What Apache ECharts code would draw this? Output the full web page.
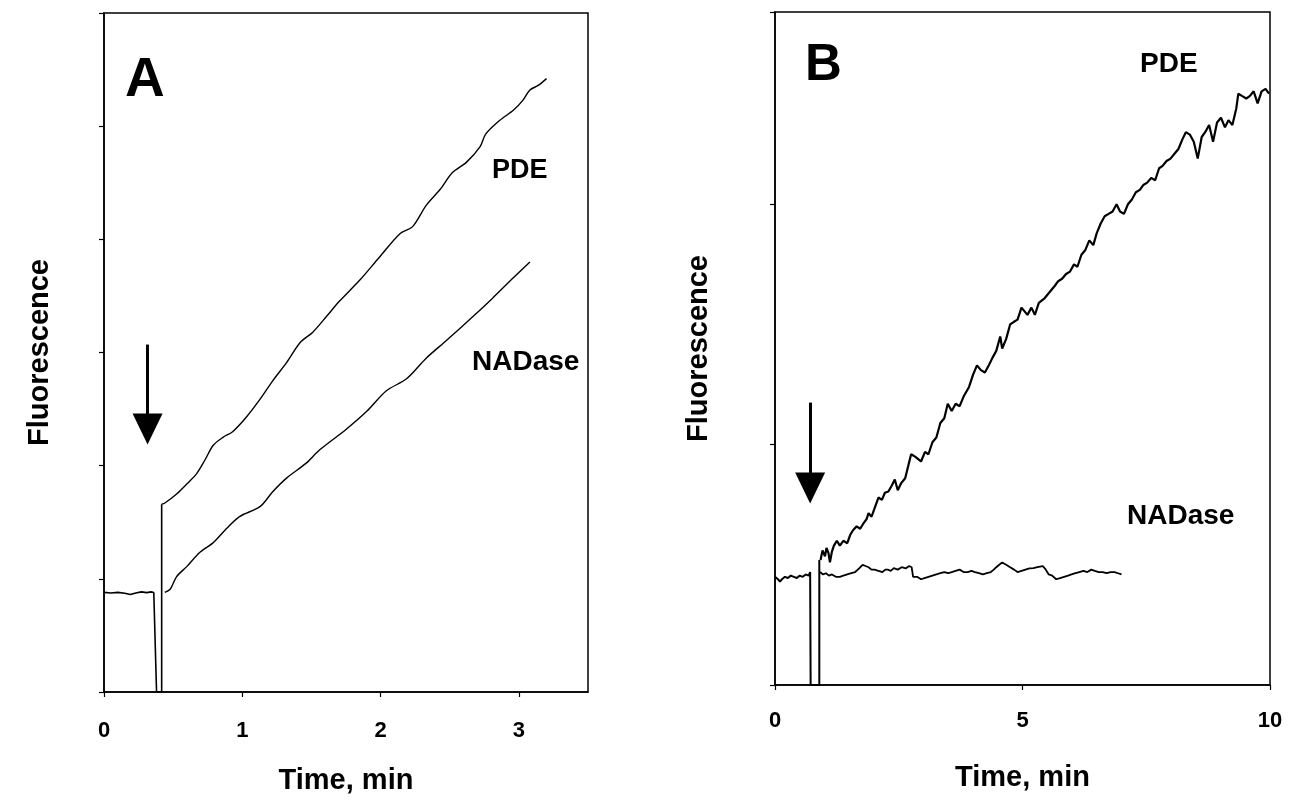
<!DOCTYPE html>
<html>
<head>
<meta charset="utf-8">
<script src="https://cdn.jsdelivr.net/npm/echarts@6/dist/echarts.min.js"></script>
<style>
html,body{margin:0;padding:0;background:#fff;}
#c{width:1289px;height:802px;}
</style>
</head>
<body>
<div id="c"></div>
<script>
// ---------------- DATA ----------------
// Panel A (Time, min ; Fluorescence, arbitrary units)
const xTicksA = [0, 1, 2, 3];
const xTicksB = [0, 5, 10];
const baselineA = [[0,0.88],[0.05,0.875],[0.10,0.88],[0.15,0.872],[0.19,0.862],[0.23,0.875],[0.27,0.885],[0.31,0.878],[0.34,0.885],[0.36,0.88],[0.38,0],[0.417,0],[0.417,1.66]];
const pdeA = [[0.417,1.66],[0.44,1.67],[0.525,1.75],[0.60,1.84],[0.67,1.93],[0.73,2.05],[0.79,2.18],[0.86,2.25],[0.93,2.30],[1.03,2.43],[1.13,2.59],[1.22,2.75],[1.32,2.91],[1.42,3.09],[1.51,3.18],[1.61,3.32],[1.70,3.45],[1.85,3.64],[1.99,3.84],[2.14,4.05],[2.23,4.11],[2.33,4.30],[2.43,4.44],[2.52,4.59],[2.62,4.68],[2.72,4.82],[2.76,4.93],[2.86,5.05],[2.96,5.14],[3.03,5.23],[3.08,5.32],[3.14,5.36],[3.20,5.42]];
const nadaseA = [[0.44,0.88],[0.48,0.91],[0.525,1.02],[0.60,1.11],[0.69,1.23],[0.79,1.32],[0.89,1.45],[0.98,1.55],[1.13,1.64],[1.22,1.77],[1.32,1.89],[1.46,2.02],[1.56,2.14],[1.75,2.32],[1.90,2.48],[2.04,2.66],[2.19,2.77],[2.33,2.95],[2.48,3.11],[2.67,3.32],[2.81,3.48],[2.96,3.66],[3.08,3.80]];
// Panel B
const baselineB = [[0,0.45],[0.06,0.44],[0.10,0.43],[0.14,0.44],[0.20,0.45],[0.26,0.445],[0.32,0.455],[0.38,0.45],[0.44,0.445],[0.50,0.455],[0.56,0.45],[0.62,0.46],[0.68,0.455],[0.71,0.47],[0.72,0],[0.895,0],[0.895,0.52]];
const pdeB = [[0.92,0.52],[0.96,0.56],[1.01,0.535],[1.04,0.57],[1.08,0.55],[1.11,0.51],[1.15,0.555],[1.19,0.58],[1.25,0.60],[1.31,0.58],[1.38,0.60],[1.46,0.59],[1.52,0.625],[1.58,0.645],[1.65,0.66],[1.72,0.65],[1.78,0.67],[1.85,0.69],[1.89,0.715],[1.95,0.70],[2.02,0.74],[2.09,0.78],[2.16,0.77],[2.22,0.80],[2.29,0.805],[2.36,0.83],[2.42,0.855],[2.48,0.81],[2.55,0.84],[2.63,0.86],[2.75,0.96],[2.83,0.95],[2.95,0.93],[3.03,0.97],[3.10,0.96],[3.18,1.01],[3.26,1.03],[3.34,1.09],[3.42,1.11],[3.49,1.17],[3.57,1.14],[3.65,1.17],[3.73,1.16],[3.81,1.20],[3.92,1.24],[4.00,1.29],[4.08,1.33],[4.16,1.31],[4.24,1.30],[4.32,1.33],[4.39,1.36],[4.47,1.39],[4.55,1.45],[4.59,1.40],[4.67,1.44],[4.75,1.50],[4.82,1.51],[4.90,1.52],[4.98,1.57],[5.10,1.54],[5.18,1.57],[5.25,1.54],[5.33,1.59],[5.45,1.61],[5.57,1.64],[5.65,1.66],[5.72,1.68],[5.80,1.69],[5.88,1.71],[5.96,1.72],[6.04,1.75],[6.11,1.74],[6.19,1.79],[6.27,1.81],[6.35,1.85],[6.43,1.83],[6.50,1.88],[6.58,1.92],[6.66,1.95],[6.74,1.96],[6.82,1.97],[6.90,2.00],[6.97,1.97],[7.05,1.96],[7.13,2.00],[7.21,2.02],[7.29,2.05],[7.37,2.06],[7.44,2.08],[7.52,2.09],[7.60,2.11],[7.68,2.10],[7.76,2.15],[7.83,2.16],[7.91,2.18],[7.99,2.19],[8.07,2.21],[8.15,2.23],[8.23,2.27],[8.30,2.30],[8.38,2.29],[8.46,2.26],[8.54,2.19],[8.62,2.28],[8.69,2.30],[8.77,2.33],[8.85,2.26],[8.93,2.34],[9.01,2.36],[9.09,2.32],[9.16,2.35],[9.24,2.33],[9.32,2.40],[9.36,2.46],[9.44,2.45],[9.52,2.44],[9.59,2.45],[9.67,2.47],[9.75,2.42],[9.83,2.47],[9.91,2.48],[9.98,2.46]];
const nadaseB = [[0.91,0.47],[0.97,0.46],[1.03,0.465],[1.09,0.455],[1.15,0.46],[1.23,0.45],[1.31,0.45],[1.38,0.455],[1.46,0.46],[1.54,0.465],[1.62,0.47],[1.70,0.485],[1.77,0.50],[1.83,0.495],[1.89,0.49],[1.95,0.48],[2.01,0.48],[2.09,0.475],[2.17,0.47],[2.23,0.48],[2.28,0.48],[2.34,0.475],[2.40,0.486],[2.48,0.48],[2.56,0.49],[2.64,0.485],[2.71,0.495],[2.76,0.49],[2.79,0.45],[2.87,0.45],[2.95,0.44],[3.02,0.445],[3.10,0.45],[3.18,0.455],[3.26,0.46],[3.34,0.465],[3.42,0.47],[3.50,0.465],[3.57,0.47],[3.65,0.475],[3.73,0.48],[3.81,0.47],[3.89,0.47],[3.97,0.475],[4.04,0.47],[4.12,0.465],[4.20,0.46],[4.28,0.465],[4.36,0.47],[4.42,0.48],[4.47,0.49],[4.53,0.50],[4.59,0.51],[4.67,0.50],[4.75,0.49],[4.83,0.48],[4.90,0.47],[4.98,0.475],[5.06,0.48],[5.14,0.485],[5.22,0.486],[5.30,0.49],[5.41,0.495],[5.47,0.48],[5.53,0.46],[5.60,0.455],[5.68,0.44],[5.76,0.445],[5.84,0.45],[5.92,0.455],[5.99,0.46],[6.07,0.465],[6.15,0.47],[6.23,0.475],[6.31,0.47],[6.39,0.48],[6.46,0.475],[6.54,0.47],[6.62,0.47],[6.70,0.465],[6.78,0.47],[6.86,0.47],[6.93,0.465],[7.00,0.46]];

// annotations
const arrowA = {x:0.315, top:3.07, head:2.325};
const arrowB = {x:0.71, top:1.175, head:0.82};

// ---------------- CHART ----------------
const FONT = '"Liberation Sans", Arial, sans-serif';
const chart = echarts.init(document.getElementById('c'), null, {renderer:'canvas'});

function xAxis(grid, max, interval, ticks, margin, gap, showMax){
  return {type:'value', gridIndex:grid, min:0, max:max, interval:interval,
    name:'Time, min', nameLocation:'middle', nameGap:gap,
    nameTextStyle:{fontFamily:FONT, fontWeight:'bold', fontSize:29, color:'#000'},
    axisLine:{show:true, lineStyle:{color:'#000', width:1.5}},
    axisTick:{show:true, length:5, lineStyle:{color:'#000', width:1.2}},
    axisLabel:{show:true, margin:margin, showMaxLabel:showMax, fontFamily:FONT, fontWeight:'bold', fontSize:22, color:'#000',
      formatter:function(v){ return ticks.indexOf(v) >= 0 ? String(v) : ''; }},
    splitLine:{show:false}};
}
function yAxis(grid, max, gap){
  return {type:'value', gridIndex:grid, min:0, max:max, interval:1,
    name:'Fluorescence', nameLocation:'middle', nameGap:gap,
    nameTextStyle:{fontFamily:FONT, fontWeight:'bold', fontSize:29, color:'#000'},
    axisLine:{show:true, lineStyle:{color:'#000', width:1.5}},
    axisTick:{show:true, length:5, lineStyle:{color:'#000', width:1.2}},
    axisLabel:{show:false}, splitLine:{show:false}};
}
function lineSeries(xi, data, w, smooth){
  return {type:'line', xAxisIndex:xi, yAxisIndex:xi, data:data, showSymbol:false, symbol:'none',
    smooth:smooth || false,
    lineStyle:{color:'#000', width:w}, silent:true, animation:false, z:3};
}
function arrow(xi, a){
  return {type:'line', xAxisIndex:xi, yAxisIndex:xi, data:[], silent:true, animation:false,
    markLine:{silent:true, animation:false, symbol:['none','triangle'], symbolSize:[30,31],
      label:{show:false}, lineStyle:{color:'#000', width:3, type:'solid'},
      itemStyle:{color:'#000'},
      data:[[{coord:[a.x, a.top]},{coord:[a.x, a.head]}]]}};
}

const option = {
  backgroundColor:'#fff',
  animation:false,
  grid:[
    {left:104, top:13, width:484, height:679, show:true, borderColor:'#000', borderWidth:1.5, backgroundColor:'transparent'},
    {left:775, top:12, width:495, height:673, show:true, borderColor:'#000', borderWidth:1.5, backgroundColor:'transparent'}
  ],
  xAxis:[ xAxis(0, 3.5, 1, xTicksA, 28, 74, false), xAxis(1, 10, 5, xTicksB, 25, 78, true) ],
  yAxis:[ yAxis(0, 6, 50), yAxis(1, 2.8, 62) ],
  series:[
    lineSeries(0, baselineA, 1.6),
    lineSeries(0, pdeA, 1.4, 0.3),
    lineSeries(0, nadaseA, 1.4, 0.3),
    arrow(0, arrowA),
    lineSeries(1, baselineB, 2),
    lineSeries(1, pdeB, 2.2),
    lineSeries(1, nadaseB, 1.8),
    arrow(1, arrowB)
  ],
  graphic:[
    {type:'text', left:125, top:53, style:{text:'A', font:'bold 55px ' + FONT, fill:'#000'}},
    {type:'text', left:805, top:40, style:{text:'B', font:'bold 51px ' + FONT, fill:'#000'}},
    {type:'text', left:492, top:157, style:{text:'PDE', font:'bold 27px ' + FONT, fill:'#000'}},
    {type:'text', left:472, top:348, style:{text:'NADase', font:'bold 28px ' + FONT, fill:'#000'}},
    {type:'text', left:1140, top:50, style:{text:'PDE', font:'bold 28px ' + FONT, fill:'#000'}},
    {type:'text', left:1127, top:502, style:{text:'NADase', font:'bold 28px ' + FONT, fill:'#000'}}
  ]
};
chart.setOption(option);
</script>
</body>
</html>
